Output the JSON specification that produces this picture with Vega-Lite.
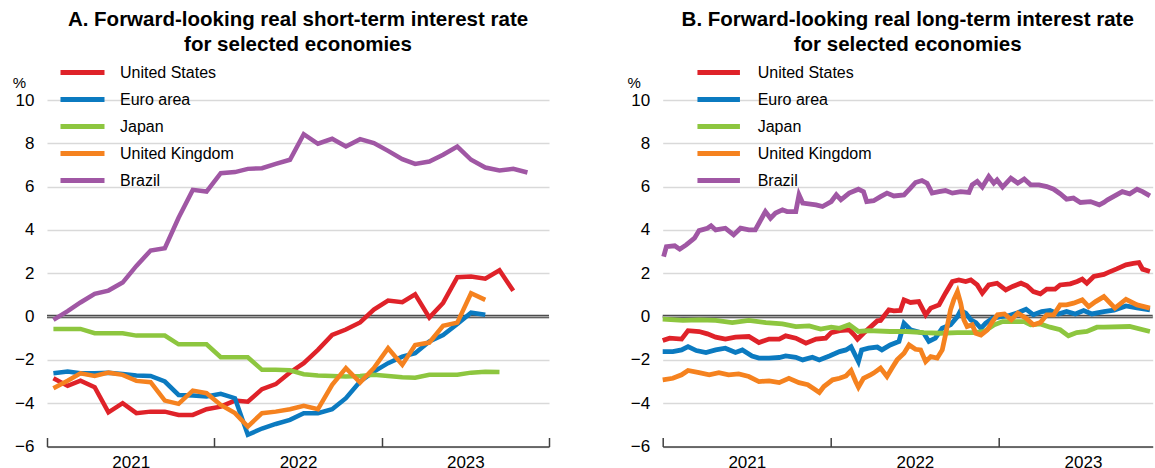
{
  "$schema": "https://vega.github.io/schema/vega-lite/v6.json",
  "padding": {"left": 12, "top": 10, "right": 0, "bottom": 0},
  "spacing": 113.7,
  "bounds": "flush",
  "config": {
    "font": "Liberation Sans",
    "view": {"stroke": null},
    "axis": {"labelFont": "Liberation Sans", "titleFont": "Liberation Sans", "labelColor": "#000000", "titleColor": "#000000"},
    "legend": {"labelFont": "Liberation Sans", "labelColor": "#000000"},
    "title": {"font": "Liberation Sans", "color": "#000000"}
  },
  "resolve": {"scale": {"color": "independent", "x": "independent", "y": "independent"}, "legend": {"color": "independent"}},
  "datasets": {
    "short": [
      {"date":"2021-01-15","country":"United States","value":-2.85},{"date":"2021-02-15","country":"United States","value":-3.2},{"date":"2021-03-15","country":"United States","value":-2.96},{"date":"2021-04-15","country":"United States","value":-3.26},{"date":"2021-05-15","country":"United States","value":-4.42},{"date":"2021-06-15","country":"United States","value":-4.0},{"date":"2021-07-15","country":"United States","value":-4.46},{"date":"2021-08-15","country":"United States","value":-4.39},{"date":"2021-09-15","country":"United States","value":-4.39},{"date":"2021-10-15","country":"United States","value":-4.54},{"date":"2021-11-15","country":"United States","value":-4.54},{"date":"2021-12-15","country":"United States","value":-4.28},{"date":"2022-01-15","country":"United States","value":-4.16},{"date":"2022-02-15","country":"United States","value":-3.88},{"date":"2022-03-15","country":"United States","value":-3.93},{"date":"2022-04-15","country":"United States","value":-3.35},{"date":"2022-05-15","country":"United States","value":-3.12},{"date":"2022-06-15","country":"United States","value":-2.58},{"date":"2022-07-15","country":"United States","value":-2.15},{"date":"2022-08-15","country":"United States","value":-1.54},{"date":"2022-09-15","country":"United States","value":-0.85},{"date":"2022-10-15","country":"United States","value":-0.6},{"date":"2022-11-15","country":"United States","value":-0.27},{"date":"2022-12-15","country":"United States","value":0.32},{"date":"2023-01-15","country":"United States","value":0.74},{"date":"2023-02-15","country":"United States","value":0.66},{"date":"2023-03-15","country":"United States","value":1.03},{"date":"2023-04-15","country":"United States","value":-0.05},{"date":"2023-05-15","country":"United States","value":0.63},{"date":"2023-06-15","country":"United States","value":1.82},{"date":"2023-07-15","country":"United States","value":1.85},{"date":"2023-08-15","country":"United States","value":1.75},{"date":"2023-09-15","country":"United States","value":2.14},{"date":"2023-10-15","country":"United States","value":1.19},
      {"date":"2021-01-15","country":"Euro area","value":-2.62},{"date":"2021-02-15","country":"Euro area","value":-2.54},{"date":"2021-03-15","country":"Euro area","value":-2.62},{"date":"2021-04-15","country":"Euro area","value":-2.62},{"date":"2021-05-15","country":"Euro area","value":-2.59},{"date":"2021-06-15","country":"Euro area","value":-2.65},{"date":"2021-07-15","country":"Euro area","value":-2.72},{"date":"2021-08-15","country":"Euro area","value":-2.74},{"date":"2021-09-15","country":"Euro area","value":-3.0},{"date":"2021-10-15","country":"Euro area","value":-3.62},{"date":"2021-11-15","country":"Euro area","value":-3.65},{"date":"2021-12-15","country":"Euro area","value":-3.69},{"date":"2022-01-15","country":"Euro area","value":-3.57},{"date":"2022-02-15","country":"Euro area","value":-3.77},{"date":"2022-03-15","country":"Euro area","value":-5.46},{"date":"2022-04-15","country":"Euro area","value":-5.17},{"date":"2022-05-15","country":"Euro area","value":-4.96},{"date":"2022-06-15","country":"Euro area","value":-4.77},{"date":"2022-07-15","country":"Euro area","value":-4.46},{"date":"2022-08-15","country":"Euro area","value":-4.46},{"date":"2022-09-15","country":"Euro area","value":-4.28},{"date":"2022-10-15","country":"Euro area","value":-3.77},{"date":"2022-11-15","country":"Euro area","value":-3.0},{"date":"2022-12-15","country":"Euro area","value":-2.54},{"date":"2023-01-15","country":"Euro area","value":-2.15},{"date":"2023-02-15","country":"Euro area","value":-1.85},{"date":"2023-03-15","country":"Euro area","value":-1.69},{"date":"2023-04-15","country":"Euro area","value":-1.15},{"date":"2023-05-15","country":"Euro area","value":-0.85},{"date":"2023-06-15","country":"Euro area","value":-0.34},{"date":"2023-07-15","country":"Euro area","value":0.18},{"date":"2023-08-15","country":"Euro area","value":0.08},
      {"date":"2021-01-15","country":"Japan","value":-0.57},{"date":"2021-02-15","country":"Japan","value":-0.57},{"date":"2021-03-15","country":"Japan","value":-0.57},{"date":"2021-04-15","country":"Japan","value":-0.77},{"date":"2021-05-15","country":"Japan","value":-0.77},{"date":"2021-06-15","country":"Japan","value":-0.77},{"date":"2021-07-15","country":"Japan","value":-0.88},{"date":"2021-08-15","country":"Japan","value":-0.88},{"date":"2021-09-15","country":"Japan","value":-0.88},{"date":"2021-10-15","country":"Japan","value":-1.28},{"date":"2021-11-15","country":"Japan","value":-1.28},{"date":"2021-12-15","country":"Japan","value":-1.28},{"date":"2022-01-15","country":"Japan","value":-1.88},{"date":"2022-02-15","country":"Japan","value":-1.88},{"date":"2022-03-15","country":"Japan","value":-1.88},{"date":"2022-04-15","country":"Japan","value":-2.46},{"date":"2022-05-15","country":"Japan","value":-2.46},{"date":"2022-06-15","country":"Japan","value":-2.48},{"date":"2022-07-15","country":"Japan","value":-2.66},{"date":"2022-08-15","country":"Japan","value":-2.72},{"date":"2022-09-15","country":"Japan","value":-2.74},{"date":"2022-10-15","country":"Japan","value":-2.77},{"date":"2022-11-15","country":"Japan","value":-2.74},{"date":"2022-12-15","country":"Japan","value":-2.69},{"date":"2023-01-15","country":"Japan","value":-2.74},{"date":"2023-02-15","country":"Japan","value":-2.8},{"date":"2023-03-15","country":"Japan","value":-2.82},{"date":"2023-04-15","country":"Japan","value":-2.69},{"date":"2023-05-15","country":"Japan","value":-2.69},{"date":"2023-06-15","country":"Japan","value":-2.69},{"date":"2023-07-15","country":"Japan","value":-2.59},{"date":"2023-08-15","country":"Japan","value":-2.55},{"date":"2023-09-15","country":"Japan","value":-2.56},
      {"date":"2021-01-15","country":"United Kingdom","value":-3.31},{"date":"2021-02-15","country":"United Kingdom","value":-2.96},{"date":"2021-03-15","country":"United Kingdom","value":-2.62},{"date":"2021-04-15","country":"United Kingdom","value":-2.74},{"date":"2021-05-15","country":"United Kingdom","value":-2.59},{"date":"2021-06-15","country":"United Kingdom","value":-2.69},{"date":"2021-07-15","country":"United Kingdom","value":-2.97},{"date":"2021-08-15","country":"United Kingdom","value":-3.03},{"date":"2021-09-15","country":"United Kingdom","value":-3.88},{"date":"2021-10-15","country":"United Kingdom","value":-4.03},{"date":"2021-11-15","country":"United Kingdom","value":-3.42},{"date":"2021-12-15","country":"United Kingdom","value":-3.54},{"date":"2022-01-15","country":"United Kingdom","value":-4.08},{"date":"2022-02-15","country":"United Kingdom","value":-4.46},{"date":"2022-03-15","country":"United Kingdom","value":-5.08},{"date":"2022-04-15","country":"United Kingdom","value":-4.46},{"date":"2022-05-15","country":"United Kingdom","value":-4.39},{"date":"2022-06-15","country":"United Kingdom","value":-4.28},{"date":"2022-07-15","country":"United Kingdom","value":-4.12},{"date":"2022-08-15","country":"United Kingdom","value":-4.28},{"date":"2022-09-15","country":"United Kingdom","value":-3.15},{"date":"2022-10-15","country":"United Kingdom","value":-2.38},{"date":"2022-11-15","country":"United Kingdom","value":-3.05},{"date":"2022-12-15","country":"United Kingdom","value":-2.38},{"date":"2023-01-15","country":"United Kingdom","value":-1.46},{"date":"2023-02-15","country":"United Kingdom","value":-2.23},{"date":"2023-03-15","country":"United Kingdom","value":-1.31},{"date":"2023-04-15","country":"United Kingdom","value":-1.2},{"date":"2023-05-15","country":"United Kingdom","value":-0.43},{"date":"2023-06-15","country":"United Kingdom","value":-0.28},{"date":"2023-07-15","country":"United Kingdom","value":1.08},{"date":"2023-08-15","country":"United Kingdom","value":0.77},
      {"date":"2021-01-15","country":"Brazil","value":-0.15},{"date":"2021-02-15","country":"Brazil","value":0.25},{"date":"2021-03-15","country":"Brazil","value":0.65},{"date":"2021-04-15","country":"Brazil","value":1.05},{"date":"2021-05-15","country":"Brazil","value":1.2},{"date":"2021-06-15","country":"Brazil","value":1.57},{"date":"2021-07-15","country":"Brazil","value":2.34},{"date":"2021-08-15","country":"Brazil","value":3.05},{"date":"2021-09-15","country":"Brazil","value":3.16},{"date":"2021-10-15","country":"Brazil","value":4.56},{"date":"2021-11-15","country":"Brazil","value":5.85},{"date":"2021-12-15","country":"Brazil","value":5.77},{"date":"2022-01-15","country":"Brazil","value":6.62},{"date":"2022-02-15","country":"Brazil","value":6.67},{"date":"2022-03-15","country":"Brazil","value":6.82},{"date":"2022-04-15","country":"Brazil","value":6.85},{"date":"2022-05-15","country":"Brazil","value":7.05},{"date":"2022-06-15","country":"Brazil","value":7.24},{"date":"2022-07-15","country":"Brazil","value":8.42},{"date":"2022-08-15","country":"Brazil","value":7.98},{"date":"2022-09-15","country":"Brazil","value":8.21},{"date":"2022-10-15","country":"Brazil","value":7.85},{"date":"2022-11-15","country":"Brazil","value":8.19},{"date":"2022-12-15","country":"Brazil","value":8.01},{"date":"2023-01-15","country":"Brazil","value":7.65},{"date":"2023-02-15","country":"Brazil","value":7.27},{"date":"2023-03-15","country":"Brazil","value":7.05},{"date":"2023-04-15","country":"Brazil","value":7.16},{"date":"2023-05-15","country":"Brazil","value":7.47},{"date":"2023-06-15","country":"Brazil","value":7.85},{"date":"2023-07-15","country":"Brazil","value":7.24},{"date":"2023-08-15","country":"Brazil","value":6.88},{"date":"2023-09-15","country":"Brazil","value":6.75},{"date":"2023-10-15","country":"Brazil","value":6.82},{"date":"2023-11-15","country":"Brazil","value":6.65}
    ],
    "long": [
      {"date":"2021-01-01","country":"United States","value":-1.11},{"date":"2021-01-16","country":"United States","value":-1.0},{"date":"2021-02-11","country":"United States","value":-1.04},{"date":"2021-02-25","country":"United States","value":-0.65},{"date":"2021-03-21","country":"United States","value":-0.69},{"date":"2021-04-08","country":"United States","value":-0.8},{"date":"2021-04-26","country":"United States","value":-0.95},{"date":"2021-05-17","country":"United States","value":-1.04},{"date":"2021-06-08","country":"United States","value":-0.95},{"date":"2021-07-07","country":"United States","value":-0.92},{"date":"2021-07-29","country":"United States","value":-1.2},{"date":"2021-08-20","country":"United States","value":-1.04},{"date":"2021-09-11","country":"United States","value":-1.04},{"date":"2021-09-25","country":"United States","value":-0.89},{"date":"2021-10-17","country":"United States","value":-1.0},{"date":"2021-11-08","country":"United States","value":-1.23},{"date":"2021-11-30","country":"United States","value":-1.04},{"date":"2021-12-21","country":"United States","value":-1.0},{"date":"2022-01-02","country":"United States","value":-0.74},{"date":"2022-01-20","country":"United States","value":-0.65},{"date":"2022-02-10","country":"United States","value":-0.61},{"date":"2022-02-21","country":"United States","value":-0.85},{"date":"2022-02-28","country":"United States","value":-1.04},{"date":"2022-03-13","country":"United States","value":-0.77},{"date":"2022-03-28","country":"United States","value":-0.49},{"date":"2022-04-12","country":"United States","value":-0.2},{"date":"2022-04-19","country":"United States","value":-0.18},{"date":"2022-05-07","country":"United States","value":0.31},{"date":"2022-05-18","country":"United States","value":0.26},{"date":"2022-06-01","country":"United States","value":0.28},{"date":"2022-06-09","country":"United States","value":0.77},{"date":"2022-06-23","country":"United States","value":0.65},{"date":"2022-07-11","country":"United States","value":0.69},{"date":"2022-07-26","country":"United States","value":0.08},{"date":"2022-08-06","country":"United States","value":0.39},{"date":"2022-08-24","country":"United States","value":0.54},{"date":"2022-09-07","country":"United States","value":1.08},{"date":"2022-09-22","country":"United States","value":1.62},{"date":"2022-10-06","country":"United States","value":1.69},{"date":"2022-10-21","country":"United States","value":1.62},{"date":"2022-11-01","country":"United States","value":1.69},{"date":"2022-11-15","country":"United States","value":1.46},{"date":"2022-11-26","country":"United States","value":1.08},{"date":"2022-12-10","country":"United States","value":1.46},{"date":"2022-12-28","country":"United States","value":1.54},{"date":"2023-01-16","country":"United States","value":1.23},{"date":"2023-01-31","country":"United States","value":1.39},{"date":"2023-02-18","country":"United States","value":1.54},{"date":"2023-03-03","country":"United States","value":1.42},{"date":"2023-03-17","country":"United States","value":1.15},{"date":"2023-04-01","country":"United States","value":1.05},{"date":"2023-04-15","country":"United States","value":1.27},{"date":"2023-05-03","country":"United States","value":1.27},{"date":"2023-05-14","country":"United States","value":1.46},{"date":"2023-06-05","country":"United States","value":1.51},{"date":"2023-06-20","country":"United States","value":1.62},{"date":"2023-07-01","country":"United States","value":1.73},{"date":"2023-07-11","country":"United States","value":1.54},{"date":"2023-07-26","country":"United States","value":1.85},{"date":"2023-08-17","country":"United States","value":1.95},{"date":"2023-08-28","country":"United States","value":2.05},{"date":"2023-09-14","country":"United States","value":2.2},{"date":"2023-10-04","country":"United States","value":2.39},{"date":"2023-10-20","country":"United States","value":2.46},{"date":"2023-11-01","country":"United States","value":2.49},{"date":"2023-11-09","country":"United States","value":2.19},{"date":"2023-11-25","country":"United States","value":2.08},
      {"date":"2021-01-01","country":"Euro area","value":-1.62},{"date":"2021-01-23","country":"Euro area","value":-1.62},{"date":"2021-02-11","country":"Euro area","value":-1.54},{"date":"2021-02-25","country":"Euro area","value":-1.39},{"date":"2021-03-15","country":"Euro area","value":-1.57},{"date":"2021-04-05","country":"Euro area","value":-1.66},{"date":"2021-04-26","country":"Euro area","value":-1.54},{"date":"2021-05-17","country":"Euro area","value":-1.46},{"date":"2021-06-08","country":"Euro area","value":-1.66},{"date":"2021-06-23","country":"Euro area","value":-1.54},{"date":"2021-07-14","country":"Euro area","value":-1.82},{"date":"2021-07-29","country":"Euro area","value":-1.92},{"date":"2021-08-20","country":"Euro area","value":-1.92},{"date":"2021-09-11","country":"Euro area","value":-1.89},{"date":"2021-09-25","country":"Euro area","value":-1.82},{"date":"2021-10-17","country":"Euro area","value":-1.88},{"date":"2021-11-01","country":"Euro area","value":-2.0},{"date":"2021-11-22","country":"Euro area","value":-1.88},{"date":"2021-12-07","country":"Euro area","value":-2.0},{"date":"2021-12-29","country":"Euro area","value":-1.82},{"date":"2022-01-20","country":"Euro area","value":-1.62},{"date":"2022-02-03","country":"Euro area","value":-1.54},{"date":"2022-02-14","country":"Euro area","value":-1.39},{"date":"2022-02-24","country":"Euro area","value":-1.82},{"date":"2022-03-02","country":"Euro area","value":-2.08},{"date":"2022-03-09","country":"Euro area","value":-1.54},{"date":"2022-03-24","country":"Euro area","value":-1.46},{"date":"2022-04-12","country":"Euro area","value":-1.41},{"date":"2022-04-22","country":"Euro area","value":-1.54},{"date":"2022-05-10","country":"Euro area","value":-1.31},{"date":"2022-05-29","country":"Euro area","value":-1.15},{"date":"2022-06-09","country":"Euro area","value":-0.31},{"date":"2022-06-23","country":"Euro area","value":-0.61},{"date":"2022-07-07","country":"Euro area","value":-0.69},{"date":"2022-07-22","country":"Euro area","value":-0.77},{"date":"2022-08-02","country":"Euro area","value":-1.15},{"date":"2022-08-16","country":"Euro area","value":-1.0},{"date":"2022-08-31","country":"Euro area","value":-0.54},{"date":"2022-09-18","country":"Euro area","value":-0.38},{"date":"2022-10-03","country":"Euro area","value":0.0},{"date":"2022-10-10","country":"Euro area","value":0.28},{"date":"2022-10-21","country":"Euro area","value":0.16},{"date":"2022-11-01","country":"Euro area","value":-0.15},{"date":"2022-11-12","country":"Euro area","value":-0.28},{"date":"2022-11-23","country":"Euro area","value":-0.54},{"date":"2022-12-03","country":"Euro area","value":-0.31},{"date":"2022-12-18","country":"Euro area","value":-0.08},{"date":"2023-01-06","country":"Euro area","value":0.0},{"date":"2023-01-20","country":"Euro area","value":0.03},{"date":"2023-02-11","country":"Euro area","value":0.18},{"date":"2023-03-01","country":"Euro area","value":0.34},{"date":"2023-03-17","country":"Euro area","value":0.08},{"date":"2023-04-04","country":"Euro area","value":0.23},{"date":"2023-04-22","country":"Euro area","value":0.28},{"date":"2023-05-10","country":"Euro area","value":0.12},{"date":"2023-05-28","country":"Euro area","value":0.23},{"date":"2023-06-16","country":"Euro area","value":0.12},{"date":"2023-07-04","country":"Euro area","value":0.28},{"date":"2023-07-22","country":"Euro area","value":0.12},{"date":"2023-08-17","country":"Euro area","value":0.23},{"date":"2023-09-08","country":"Euro area","value":0.3},{"date":"2023-10-04","country":"Euro area","value":0.49},{"date":"2023-10-28","country":"Euro area","value":0.4},{"date":"2023-11-25","country":"Euro area","value":0.31},
      {"date":"2021-01-01","country":"Japan","value":-0.12},{"date":"2021-02-14","country":"Japan","value":-0.18},{"date":"2021-03-21","country":"Japan","value":-0.15},{"date":"2021-04-26","country":"Japan","value":-0.18},{"date":"2021-06-01","country":"Japan","value":-0.28},{"date":"2021-07-07","country":"Japan","value":-0.18},{"date":"2021-08-13","country":"Japan","value":-0.28},{"date":"2021-09-18","country":"Japan","value":-0.34},{"date":"2021-10-17","country":"Japan","value":-0.46},{"date":"2021-11-15","country":"Japan","value":-0.43},{"date":"2021-12-10","country":"Japan","value":-0.58},{"date":"2022-01-02","country":"Japan","value":-0.49},{"date":"2022-01-20","country":"Japan","value":-0.54},{"date":"2022-02-10","country":"Japan","value":-0.38},{"date":"2022-03-02","country":"Japan","value":-0.69},{"date":"2022-03-24","country":"Japan","value":-0.65},{"date":"2022-05-10","country":"Japan","value":-0.69},{"date":"2022-06-15","country":"Japan","value":-0.69},{"date":"2022-07-22","country":"Japan","value":-0.74},{"date":"2022-08-27","country":"Japan","value":-0.77},{"date":"2022-10-03","country":"Japan","value":-0.74},{"date":"2022-11-08","country":"Japan","value":-0.74},{"date":"2022-11-30","country":"Japan","value":-0.69},{"date":"2022-12-22","country":"Japan","value":-0.38},{"date":"2023-01-09","country":"Japan","value":-0.23},{"date":"2023-02-04","country":"Japan","value":-0.23},{"date":"2023-02-25","country":"Japan","value":-0.23},{"date":"2023-03-11","country":"Japan","value":-0.38},{"date":"2023-04-01","country":"Japan","value":-0.34},{"date":"2023-04-22","country":"Japan","value":-0.49},{"date":"2023-05-14","country":"Japan","value":-0.61},{"date":"2023-06-01","country":"Japan","value":-0.89},{"date":"2023-06-19","country":"Japan","value":-0.74},{"date":"2023-07-11","country":"Japan","value":-0.69},{"date":"2023-08-02","country":"Japan","value":-0.49},{"date":"2023-08-17","country":"Japan","value":-0.49},{"date":"2023-10-12","country":"Japan","value":-0.46},{"date":"2023-11-25","country":"Japan","value":-0.69},
      {"date":"2021-01-01","country":"United Kingdom","value":-2.92},{"date":"2021-01-23","country":"United Kingdom","value":-2.85},{"date":"2021-02-11","country":"United Kingdom","value":-2.69},{"date":"2021-02-25","country":"United Kingdom","value":-2.49},{"date":"2021-03-21","country":"United Kingdom","value":-2.59},{"date":"2021-04-12","country":"United Kingdom","value":-2.69},{"date":"2021-05-03","country":"United Kingdom","value":-2.59},{"date":"2021-05-24","country":"United Kingdom","value":-2.69},{"date":"2021-06-15","country":"United Kingdom","value":-2.65},{"date":"2021-07-07","country":"United Kingdom","value":-2.77},{"date":"2021-07-29","country":"United Kingdom","value":-3.0},{"date":"2021-08-20","country":"United Kingdom","value":-2.97},{"date":"2021-09-11","country":"United Kingdom","value":-3.05},{"date":"2021-10-02","country":"United Kingdom","value":-2.85},{"date":"2021-10-24","country":"United Kingdom","value":-3.05},{"date":"2021-11-12","country":"United Kingdom","value":-3.15},{"date":"2021-11-26","country":"United Kingdom","value":-3.35},{"date":"2021-12-07","country":"United Kingdom","value":-3.51},{"date":"2021-12-17","country":"United Kingdom","value":-3.23},{"date":"2022-01-05","country":"United Kingdom","value":-2.92},{"date":"2022-01-20","country":"United Kingdom","value":-2.85},{"date":"2022-02-03","country":"United Kingdom","value":-2.74},{"date":"2022-02-14","country":"United Kingdom","value":-2.49},{"date":"2022-02-24","country":"United Kingdom","value":-3.0},{"date":"2022-03-02","country":"United Kingdom","value":-3.26},{"date":"2022-03-13","country":"United Kingdom","value":-2.85},{"date":"2022-03-28","country":"United Kingdom","value":-2.69},{"date":"2022-04-04","country":"United Kingdom","value":-2.61},{"date":"2022-04-19","country":"United Kingdom","value":-2.38},{"date":"2022-05-03","country":"United Kingdom","value":-2.77},{"date":"2022-05-14","country":"United Kingdom","value":-2.38},{"date":"2022-05-25","country":"United Kingdom","value":-2.0},{"date":"2022-06-09","country":"United Kingdom","value":-1.69},{"date":"2022-06-20","country":"United Kingdom","value":-1.31},{"date":"2022-07-04","country":"United Kingdom","value":-1.51},{"date":"2022-07-15","country":"United Kingdom","value":-1.54},{"date":"2022-07-26","country":"United Kingdom","value":-2.08},{"date":"2022-08-06","country":"United Kingdom","value":-1.85},{"date":"2022-08-20","country":"United Kingdom","value":-1.92},{"date":"2022-08-31","country":"United Kingdom","value":-1.54},{"date":"2022-09-07","country":"United Kingdom","value":-0.85},{"date":"2022-09-18","country":"United Kingdom","value":0.31},{"date":"2022-09-25","country":"United Kingdom","value":0.77},{"date":"2022-10-03","country":"United Kingdom","value":1.15},{"date":"2022-10-10","country":"United Kingdom","value":0.62},{"date":"2022-10-17","country":"United Kingdom","value":-0.15},{"date":"2022-10-24","country":"United Kingdom","value":-0.46},{"date":"2022-11-04","country":"United Kingdom","value":-0.38},{"date":"2022-11-12","country":"United Kingdom","value":-0.77},{"date":"2022-11-23","country":"United Kingdom","value":-0.85},{"date":"2022-12-07","country":"United Kingdom","value":-0.61},{"date":"2022-12-18","country":"United Kingdom","value":-0.23},{"date":"2022-12-29","country":"United Kingdom","value":0.08},{"date":"2023-01-13","country":"United Kingdom","value":0.12},{"date":"2023-01-28","country":"United Kingdom","value":-0.15},{"date":"2023-02-11","country":"United Kingdom","value":0.16},{"date":"2023-03-01","country":"United Kingdom","value":-0.08},{"date":"2023-03-17","country":"United Kingdom","value":-0.38},{"date":"2023-04-01","country":"United Kingdom","value":-0.28},{"date":"2023-04-15","country":"United Kingdom","value":0.08},{"date":"2023-04-30","country":"United Kingdom","value":0.08},{"date":"2023-05-14","country":"United Kingdom","value":0.54},{"date":"2023-05-28","country":"United Kingdom","value":0.54},{"date":"2023-06-12","country":"United Kingdom","value":0.62},{"date":"2023-07-01","country":"United Kingdom","value":0.77},{"date":"2023-07-15","country":"United Kingdom","value":0.46},{"date":"2023-07-30","country":"United Kingdom","value":0.69},{"date":"2023-08-17","country":"United Kingdom","value":0.92},{"date":"2023-09-10","country":"United Kingdom","value":0.39},{"date":"2023-10-04","country":"United Kingdom","value":0.8},{"date":"2023-10-28","country":"United Kingdom","value":0.54},{"date":"2023-11-25","country":"United Kingdom","value":0.39},
      {"date":"2021-01-03","country":"Brazil","value":2.77},{"date":"2021-01-09","country":"Brazil","value":3.23},{"date":"2021-01-27","country":"Brazil","value":3.27},{"date":"2021-02-07","country":"Brazil","value":3.11},{"date":"2021-02-21","country":"Brazil","value":3.31},{"date":"2021-03-11","country":"Brazil","value":3.62},{"date":"2021-03-21","country":"Brazil","value":3.97},{"date":"2021-04-08","country":"Brazil","value":4.08},{"date":"2021-04-16","country":"Brazil","value":4.19},{"date":"2021-04-26","country":"Brazil","value":4.0},{"date":"2021-05-17","country":"Brazil","value":4.08},{"date":"2021-06-04","country":"Brazil","value":3.77},{"date":"2021-06-19","country":"Brazil","value":4.08},{"date":"2021-07-07","country":"Brazil","value":4.0},{"date":"2021-07-21","country":"Brazil","value":4.0},{"date":"2021-07-29","country":"Brazil","value":4.31},{"date":"2021-08-12","country":"Brazil","value":4.85},{"date":"2021-08-23","country":"Brazil","value":4.54},{"date":"2021-09-03","country":"Brazil","value":4.78},{"date":"2021-09-18","country":"Brazil","value":4.93},{"date":"2021-09-28","country":"Brazil","value":4.85},{"date":"2021-10-17","country":"Brazil","value":4.85},{"date":"2021-10-24","country":"Brazil","value":5.62},{"date":"2021-11-01","country":"Brazil","value":5.24},{"date":"2021-11-30","country":"Brazil","value":5.16},{"date":"2021-12-14","country":"Brazil","value":5.08},{"date":"2022-01-02","country":"Brazil","value":5.31},{"date":"2022-01-13","country":"Brazil","value":5.62},{"date":"2022-01-23","country":"Brazil","value":5.39},{"date":"2022-02-10","country":"Brazil","value":5.7},{"date":"2022-03-02","country":"Brazil","value":5.88},{"date":"2022-03-13","country":"Brazil","value":5.77},{"date":"2022-03-20","country":"Brazil","value":5.31},{"date":"2022-04-04","country":"Brazil","value":5.35},{"date":"2022-04-19","country":"Brazil","value":5.54},{"date":"2022-05-03","country":"Brazil","value":5.7},{"date":"2022-05-18","country":"Brazil","value":5.57},{"date":"2022-06-09","country":"Brazil","value":5.62},{"date":"2022-06-23","country":"Brazil","value":5.93},{"date":"2022-07-04","country":"Brazil","value":6.19},{"date":"2022-07-18","country":"Brazil","value":6.28},{"date":"2022-07-29","country":"Brazil","value":6.16},{"date":"2022-08-09","country":"Brazil","value":5.7},{"date":"2022-08-24","country":"Brazil","value":5.77},{"date":"2022-09-07","country":"Brazil","value":5.82},{"date":"2022-09-22","country":"Brazil","value":5.7},{"date":"2022-10-10","country":"Brazil","value":5.77},{"date":"2022-10-28","country":"Brazil","value":5.73},{"date":"2022-11-04","country":"Brazil","value":6.08},{"date":"2022-11-15","country":"Brazil","value":6.24},{"date":"2022-11-26","country":"Brazil","value":5.98},{"date":"2022-12-10","country":"Brazil","value":6.47},{"date":"2022-12-21","country":"Brazil","value":6.16},{"date":"2022-12-28","country":"Brazil","value":6.31},{"date":"2023-01-09","country":"Brazil","value":5.98},{"date":"2023-01-27","country":"Brazil","value":6.39},{"date":"2023-02-11","country":"Brazil","value":6.16},{"date":"2023-02-25","country":"Brazil","value":6.35},{"date":"2023-03-11","country":"Brazil","value":6.08},{"date":"2023-03-29","country":"Brazil","value":6.08},{"date":"2023-04-15","country":"Brazil","value":6.0},{"date":"2023-04-30","country":"Brazil","value":5.88},{"date":"2023-05-14","country":"Brazil","value":5.67},{"date":"2023-05-28","country":"Brazil","value":5.42},{"date":"2023-06-12","country":"Brazil","value":5.47},{"date":"2023-06-27","country":"Brazil","value":5.27},{"date":"2023-07-19","country":"Brazil","value":5.31},{"date":"2023-08-07","country":"Brazil","value":5.16},{"date":"2023-08-17","country":"Brazil","value":5.27},{"date":"2023-08-25","country":"Brazil","value":5.39},{"date":"2023-09-26","country":"Brazil","value":5.77},{"date":"2023-10-12","country":"Brazil","value":5.67},{"date":"2023-10-28","country":"Brazil","value":5.88},{"date":"2023-11-09","country":"Brazil","value":5.77},{"date":"2023-11-25","country":"Brazil","value":5.57}
    ]
  },
  "hconcat": [
    {
      "width": 502,
      "height": 346.5,
      "title": {"text": ["A. Forward-looking real short-term interest rate", "for selected economies"], "fontSize": 20.5, "fontWeight": "bold", "anchor": "middle", "frame": "group", "offset": 4.2, "lineHeight": 24.5},
      "layer": [
        {"data": {"values": [{"zero": 0}]}, "mark": {"type": "rule", "stroke": "#4d4d4d", "strokeWidth": 3.5}, "encoding": {"y": {"field": "zero", "type": "quantitative"}}},
        {"data": {"values": [{"zero": 0}]}, "mark": {"type": "rule", "stroke": "#a6a6a6", "strokeWidth": 1.2}, "encoding": {"y": {"field": "zero", "type": "quantitative"}}},
        {
          "data": {"name": "short"},
          "mark": {"type": "line", "strokeWidth": 4.5},
          "encoding": {
            "x": {"field": "date", "type": "temporal",
              "scale": {"type": "utc", "domain": [{"year": 2021, "month": 1, "date": 1, "utc": true}, {"year": 2024, "month": 1, "date": 1, "utc": true}]},
              "axis": {"title": null, "grid": false, "values": [{"year": 2021, "month": 1, "date": 1, "utc": true}, {"year": 2022, "month": 1, "date": 1, "utc": true}, {"year": 2023, "month": 1, "date": 1, "utc": true}, {"year": 2024, "month": 1, "date": 1, "utc": true}],
                "format": "%Y", "labelExpr": "utcyear(datum.value) >= 2024 ? '' : datum.label", "labelOffset": 83.7, "labelFlush": false, "labelBound": false, "labelOverlap": false,
                "tickSize": -9, "tickWidth": 1.5, "tickColor": "#404040", "domainColor": "#404040", "domainWidth": 1.5, "labelFontSize": 17, "labelPadding": 17}},
            "y": {"field": "value", "type": "quantitative",
              "scale": {"domain": [-6, 10], "nice": false, "zero": false},
              "axis": {"values": [-6, -4, -2, 0, 2, 4, 6, 8, 10], "domain": false, "ticks": false, "grid": true, "gridColor": "#d9d9d9", "gridWidth": 1.3, "labelFontSize": 17, "labelPadding": 13,
                "title": "%", "titleAngle": 0, "titleX": -28, "titleY": -18, "titleAlign": "center", "titleBaseline": "middle", "titleFontSize": 15, "titleFontWeight": "normal"}},
            "color": {"field": "country", "type": "nominal",
              "scale": {"domain": ["United States", "Euro area", "Japan", "United Kingdom", "Brazil"], "range": ["#df2229", "#0b7ac0", "#8dc63f", "#f5821f", "#a057a4"]},
              "legend": {"title": null, "orient": "none", "legendX": 11, "legendY": -40.8, "symbolType": "stroke", "symbolSize": 1936, "symbolStrokeWidth": 5, "labelFontSize": 16, "labelOffset": 13, "rowPadding": 0, "clipHeight": 26.6}}
          }
        }
      ]
    },
    {
      "width": 490,
      "height": 346.5,
      "title": {"text": ["B. Forward-looking real long-term interest rate", "for selected economies"], "fontSize": 20.5, "fontWeight": "bold", "anchor": "middle", "frame": "group", "offset": 4.2, "lineHeight": 24.5},
      "layer": [
        {"data": {"values": [{"zero": 0}]}, "mark": {"type": "rule", "stroke": "#4d4d4d", "strokeWidth": 3.5}, "encoding": {"y": {"field": "zero", "type": "quantitative"}}},
        {"data": {"values": [{"zero": 0}]}, "mark": {"type": "rule", "stroke": "#a6a6a6", "strokeWidth": 1.2}, "encoding": {"y": {"field": "zero", "type": "quantitative"}}},
        {
          "data": {"name": "long"},
          "mark": {"type": "line", "strokeWidth": 4.8},
          "encoding": {
            "x": {"field": "date", "type": "temporal",
              "scale": {"type": "utc", "domain": [{"year": 2021, "month": 1, "date": 1, "utc": true}, {"year": 2023, "month": 12, "date": 1, "utc": true}]},
              "axis": {"title": null, "grid": false, "values": [{"year": 2021, "month": 1, "date": 1, "utc": true}, {"year": 2022, "month": 1, "date": 1, "utc": true}, {"year": 2023, "month": 1, "date": 1, "utc": true}],
                "format": "%Y", "labelOffset": 84.1, "labelFlush": false, "labelBound": false, "labelOverlap": false,
                "tickSize": -9, "tickWidth": 1.5, "tickColor": "#404040", "domainColor": "#404040", "domainWidth": 1.5, "labelFontSize": 17, "labelPadding": 17}},
            "y": {"field": "value", "type": "quantitative",
              "scale": {"domain": [-6, 10], "nice": false, "zero": false},
              "axis": {"values": [-6, -4, -2, 0, 2, 4, 6, 8, 10], "domain": false, "ticks": false, "grid": true, "gridColor": "#d9d9d9", "gridWidth": 1.3, "labelFontSize": 17, "labelPadding": 13,
                "title": "%", "titleAngle": 0, "titleX": -29, "titleY": -18, "titleAlign": "center", "titleBaseline": "middle", "titleFontSize": 15, "titleFontWeight": "normal"}},
            "color": {"field": "country", "type": "nominal",
              "scale": {"domain": ["United States", "Euro area", "Japan", "United Kingdom", "Brazil"], "range": ["#df2229", "#0b7ac0", "#8dc63f", "#f5821f", "#a057a4"]},
              "legend": {"title": null, "orient": "none", "legendX": 32, "legendY": -40.8, "symbolType": "stroke", "symbolSize": 1806, "symbolStrokeWidth": 5, "labelFontSize": 16, "labelOffset": 15, "rowPadding": 0, "clipHeight": 26.6}}
          }
        }
      ]
    }
  ]
}
